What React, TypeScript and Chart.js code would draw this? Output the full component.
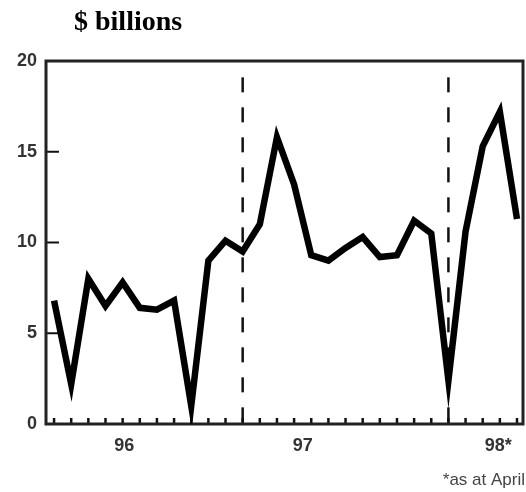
import React, { useEffect, useRef } from "react";
import { Chart, registerables } from "chart.js";

Chart.register(...registerables);

// Monthly points, Jan 1996 .. Apr 1998
const months = [
  "Jan 96", "Feb 96", "Mar 96", "Apr 96", "May 96", "Jun 96", "Jul 96", "Aug 96", "Sep 96", "Oct 96", "Nov 96", "Dec 96",
  "Jan 97", "Feb 97", "Mar 97", "Apr 97", "May 97", "Jun 97", "Jul 97", "Aug 97", "Sep 97", "Oct 97", "Nov 97", "Dec 97",
  "Jan 98", "Feb 98", "Mar 98", "Apr 98",
];
const values = [
  6.8, 2.2, 8.0, 6.5, 7.8, 6.4, 6.3, 6.8, 1.0, 9.0, 10.1, 9.5,
  11.0, 15.8, 13.2, 9.3, 9.0, 9.7, 10.3, 9.2, 9.3, 11.2, 10.5, 2.4,
  10.6, 15.3, 17.2, 11.3,
];
const yearLabels = ["96", "97", "98*"];
const yearLabelAt = [4.1, 14.5, 25.9];
const yearBreakAt = [11, 23];
const breakTop = 19.1;
const yMin = 0;
const yMax = 20;
const yStep = 5;
const innerYTicks = [5, 10, 15];
const titleText = "$ billions";
const noteText = "*as at April";

const decor = {
  id: "decor",
  beforeDatasetsDraw(chart: any) {
    const { ctx, chartArea: a, scales } = chart;
    const x = scales.x;
    const y = scales.y;
    ctx.save();
    ctx.strokeStyle = "#111";
    // dashed year breaks
    ctx.lineWidth = 2.5;
    ctx.setLineDash([15, 15]);
    for (const b of yearBreakAt) {
      const px = x.getPixelForValue(b);
      ctx.beginPath();
      ctx.moveTo(px, y.getPixelForValue(breakTop));
      ctx.lineTo(px, a.bottom);
      ctx.stroke();
    }
    ctx.setLineDash([]);
    // month ticks (inward)
    ctx.lineWidth = 2.5;
    months.forEach((_, i) => {
      const px = x.getPixelForValue(i);
      ctx.beginPath();
      ctx.moveTo(px, a.bottom);
      ctx.lineTo(px, a.bottom - 6);
      ctx.stroke();
    });
    // y ticks (inward)
    ctx.lineWidth = 2;
    innerYTicks.forEach((v) => {
      const py = y.getPixelForValue(v);
      ctx.beginPath();
      ctx.moveTo(a.left, py);
      ctx.lineTo(a.left + 13, py);
      ctx.stroke();
    });
    // frame
    ctx.lineWidth = 3;
    ctx.strokeStyle = "#222";
    ctx.strokeRect(a.left, a.top, a.right - a.left, a.bottom - a.top);
    ctx.restore();
  },
  afterDraw(chart: any) {
    const { ctx } = chart;
    ctx.save();
    ctx.fillStyle = "#000";
    ctx.font = 'bold 28px "Liberation Serif", "Times New Roman", serif';
    ctx.textAlign = "left";
    ctx.textBaseline = "alphabetic";
    ctx.fillText(titleText, 74, 30);
    ctx.fillStyle = "#444";
    ctx.font = '17px "Liberation Sans", Arial, sans-serif';
    ctx.textAlign = "right";
    ctx.fillText(noteText, 525, 485);
    ctx.restore();
  },
};

export default function App() {
  const ref = useRef<HTMLCanvasElement | null>(null);
  useEffect(() => {
    if (!ref.current) return;
    const chart = new Chart(ref.current, {
      type: "line",
      data: {
        labels: months,
        datasets: [
          {
            data: values.map((v, i) => ({ x: i, y: v })),
            borderColor: "#000",
            borderWidth: 6.5,
            borderJoinStyle: "miter",
            borderCapStyle: "butt",
            pointRadius: 0,
            tension: 0,
            fill: false,
          },
        ],
      },
      options: {
        animation: false,
        responsive: false,
        devicePixelRatio: 1,
        layout: { padding: { top: 61, right: 3, left: 0, bottom: 0 } },
        plugins: { legend: { display: false }, tooltip: { enabled: false }, title: { display: false } },
        scales: {
          x: {
            type: "linear",
            min: -0.47,
            max: 27.35,
            grid: { display: false, drawTicks: false },
            border: { display: false },
            afterFit: (s: any) => {
              s.height = 68;
            },
            afterBuildTicks: (s: any) => {
              s.ticks = yearLabelAt.map((v) => ({ value: v }));
            },
            ticks: {
              autoSkip: false,
              maxRotation: 0,
              padding: 11,
              color: "#333",
              font: { size: 18, weight: "bold", family: '"Liberation Sans", Arial, sans-serif' },
              callback: (_v: any, i: number) => yearLabels[i],
            },
          },
          y: {
            min: yMin,
            max: yMax,
            grid: { display: false, drawTicks: false },
            border: { display: false },
            afterFit: (s: any) => {
              s.width = 46;
            },
            ticks: {
              stepSize: yStep,
              padding: 9,
              color: "#333",
              font: { size: 18, weight: "bold", family: '"Liberation Sans", Arial, sans-serif' },
            },
          },
        },
      },
      plugins: [decor],
    } as any);
    return () => chart.destroy();
  }, []);
  return (
    <div style={{ position: "fixed", left: 0, top: 0, width: 526, height: 492, background: "#fff" }}>
      <canvas ref={ref} width={526} height={492} style={{ display: "block" }} />
    </div>
  );
}
